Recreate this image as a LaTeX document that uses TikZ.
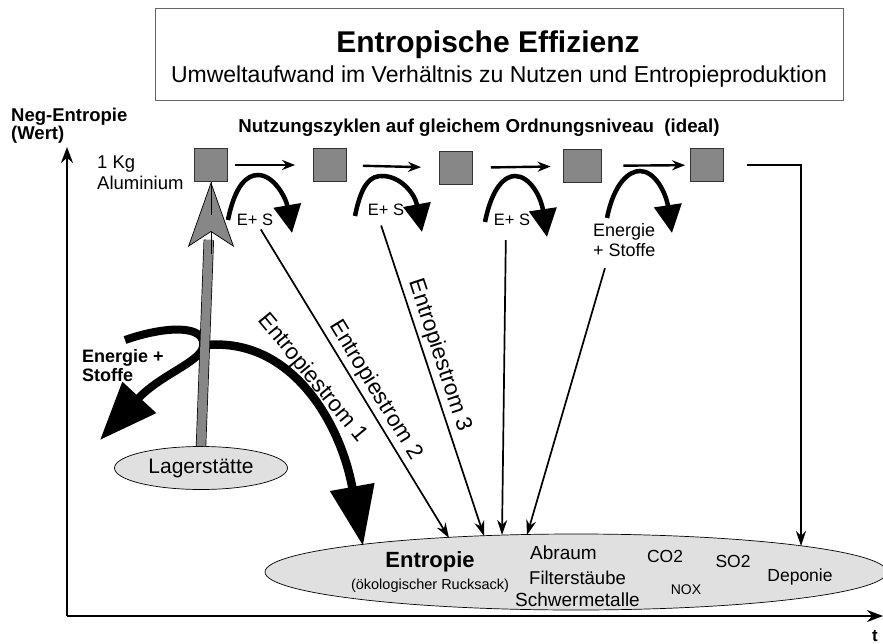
\documentclass[tikz,border=0pt]{standalone}
\usepackage{fontspec}
\setmainfont{Liberation Sans}
\usetikzlibrary{arrows.meta,shapes.geometric,calc}

\begin{document}
\begin{tikzpicture}
  [x=1pt,y=-1pt,
  f/.style 2 args={font=\fontsize{#1}{#2}\selectfont, inner sep=0pt, align=left},
  fb/.style 2 args={font=\fontsize{#1}{#2}\selectfont\bfseries, inner sep=0pt, align=left},
  square/.style={draw=black!80, fill=black!47, line width=0.8pt, minimum size=33pt, inner sep=0pt},
  blob/.style={ellipse, draw, fill=black!12, line width=0.7pt, inner sep=0pt},
  hop/.style={line width=2.4pt, -{Stealth[length=13pt,width=10pt]}},
  flow/.style={line width=1.7pt, -{Stealth[length=15pt,width=10pt]}},
  swirl/.style={line width=4.5pt, -{Triangle[length=28pt,width=27pt]}},
  heavy/.style={line width=8.5pt, -{Triangle[length=60pt,width=43pt]}},
  axis/.style={line width=2.2pt, -{Stealth[length=16pt,width=12pt]}}]

  \useasboundingbox (0,0) rectangle (883,644);

  \coordinate (origin) at (67,616);
  \coordinate (ytop) at (67,147);
  \coordinate (xend) at (883,616);
  \draw[axis] (origin) -- (ytop);
  \draw[axis] (origin) -- (xend);
  \node[fb={18.5}{18}, anchor=north west] (yname) at (11,108) {Neg-Entropie\\(Wert)};
  \node[fb={17}{18}] (tname) at (875,636) {t};

  \node[draw=black!60, line width=0.8pt, minimum width=688pt, minimum height=92pt] (head) at (499,54) {};
  \node[fb={30}{34}] (title) at (488,45) {Entropische Effizienz};
  \node[f={23}{26}] (subtitle) at (499,77) {Umweltaufwand im Verhältnis zu Nutzen und Entropieproduktion};

  \node[fb={18.7}{20}] (cycles) at (479,128) {Nutzungszyklen auf gleichem Ordnungsniveau~ (ideal)};

  \node[square] (sq1) at (211,165) {};
  \node[square] (sq2) at (330,165) {};
  \node[square] (sq3) at (456,168) {};
  \node[square, minimum width=38pt] (sq4) at (582,166) {};
  \node[square] (sq5) at (707,165) {};
  \node[f={18.5}{21}, anchor=north west] (alu) at (97,156) {1 Kg\\Aluminium};

  \draw[hop, shorten <=7pt, shorten >=18pt] (sq1) -- (sq2);
  \draw[hop, shorten <=16pt, shorten >=18pt] (sq2) -- (sq3);
  \draw[hop, shorten <=18pt, shorten >=12pt] (sq3) -- (sq4);
  \draw[hop, shorten <=22pt, shorten >=5pt] (sq4) -- (sq5);

  \draw[swirl, shift={(228,220)}] (0,0) .. controls (7,-35) and (19,-45) .. (30,-45) .. controls (46,-45) and (58,-22) .. (64,13);
  \draw[swirl, shift={(355,216)}] (0,0) .. controls (7,-35) and (17,-40) .. (27,-40) .. controls (46,-40) and (60,-22) .. (67,16);
  \draw[swirl, shift={(485,222)}] (0,0) .. controls (7,-35) and (20,-46) .. (30,-46) .. controls (45,-46) and (56,-25) .. (62,15);
  \draw[swirl, shift={(607,218)}] (0,0) .. controls (7,-35) and (22,-47) .. (33,-47) .. controls (48,-47) and (59,-25) .. (65,15);

  \node[f={16.5}{19}] (es1) at (255,220) {E+ S};
  \node[f={16.5}{19}] (es2) at (386,210) {E+ S};
  \node[f={16.5}{19}] (es3) at (512,220) {E+ S};
  \node[f={18}{20}, anchor=north west] (es4) at (593,223) {Energie\\+ Stoffe};

  \node[blob, minimum width=622pt, minimum height=76pt] (entropie) at (576,572) {};
  \node[fb={22}{24}] (ent) at (430,562) {Entropie};
  \node[f={14.5}{16}] (rucksack) at (430,586) {(ökologischer Rucksack)};
  \node[f={19}{20}, anchor=west] (abraum) at (530,553) {Abraum};
  \node[f={18.5}{20}, anchor=west] (filter) at (529,578) {Filterstäube};
  \node[f={19}{20}, anchor=west] (schwer) at (515,600) {Schwermetalle};
  \node[f={17.5}{20}] (co) at (665,556) {CO2};
  \node[f={17.5}{20}] (so) at (733,561) {SO2};
  \node[f={14}{16}] (nox) at (686,590) {NOX};
  \node[f={17.5}{20}] (deponie) at (800,577) {Deponie};

  \coordinate (in0) at (363,546);
  \coordinate (in1) at (449,538);
  \coordinate (in2) at (484,536);
  \coordinate (in3) at (502,535);
  \coordinate (in4) at (527,535);
  \coordinate (in5) at (801,546);

  \draw[flow, shorten <=4pt] (es1) -- (in1)
    node[f={22.5}{24}, pos=0.55, sloped, above=3pt] (strom2) {Entropiestrom 2};
  \draw[flow, shorten <=10pt] ([xshift=-8pt]es2.south) -- (in2)
    node[f={22.5}{24}, pos=0.45, sloped, above=3pt] (strom3) {Entropiestrom 3};
  \draw[flow, shorten <=14pt] ([xshift=-6pt]es3.south) -- (in3);
  \draw[flow, shorten <=12pt] ([xshift=-16pt]es4.south) -- (in4);
  \draw[flow, line width=2pt] ([xshift=23pt]sq5.east) -| (in5);

  \node[blob, minimum width=173pt, minimum height=43pt] (lager) at (201,468) {};
  \node[f={21}{22}] (lagertext) at (201,468) {Lagerstätte};

  \coordinate (fork) at (207,345);
  \coordinate (hookstart) at (125,340);
  \coordinate (hooktip) at (100,440);
  \draw[heavy] (fork) .. controls (290,338) and (340,420) .. (in0)
    node[f={22.5}{24}, pos=0.46, sloped, above=0pt] (strom1) {Entropiestrom 1};
  \draw[line width=8pt, -{Triangle[length=58pt,width=44pt]}] (hookstart) .. controls (165,326) and (207,324) .. (203,347) .. controls (200,362) and (160,375) .. (hooktip);
  \node[fb={18}{19}, anchor=north west] (esleft) at (82,349) {Energie +\\Stoffe};

  \draw[double=black!47, double distance=9pt, line width=0.7pt, shorten >=58pt] (lager.north) -- (sq1.south);
  \draw[line width=0.7pt, -{Stealth[length=65pt,width=46pt,inset=15pt,fill=black!47]}] ($(sq1.south)+(0,72)$) -- (sq1.south);
  \draw[line width=1pt] (sq1.south) -- ++(0,33);

\end{tikzpicture}
\end{document}
